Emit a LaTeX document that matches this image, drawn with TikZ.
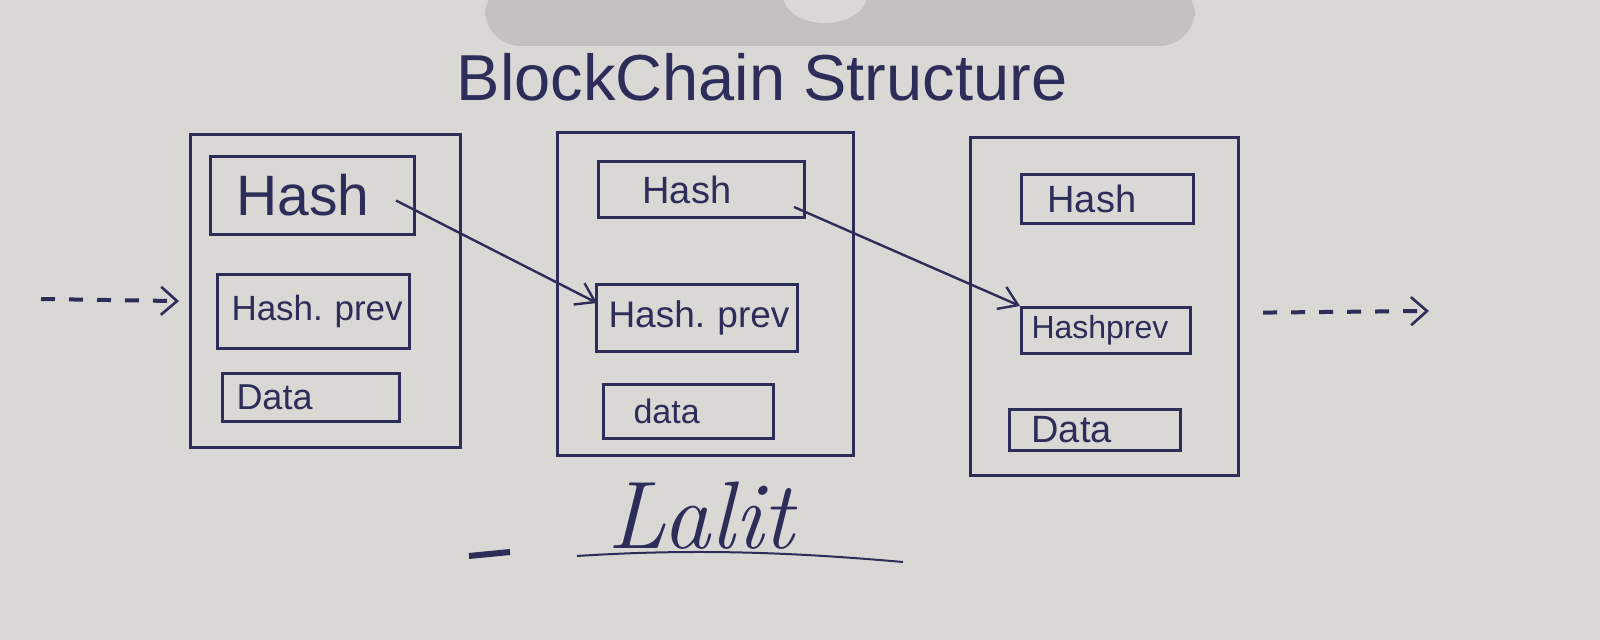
\documentclass[tikz,border=0pt]{standalone}
\usepackage{fontspec}
\newfontfamily\hand{Liberation Sans}
\usetikzlibrary{arrows.meta,calc}
\definecolor{ink}{HTML}{2E2C58}
\definecolor{paper}{HTML}{D9D8D5}
\definecolor{shadowgray}{HTML}{C3C1BF}
\frenchspacing
\begin{document}
\begin{tikzpicture}[x=0.5pt,y=-0.5pt,
  outer/.style={draw=ink, line width=1.6pt, inner sep=0pt, anchor=north west},
  field/.style={draw=ink, line width=1.5pt, inner xsep=0pt, inner ysep=0pt, anchor=north west, text=ink, align=left, font=\hand},
  link/.style={draw=ink, line width=1.2pt, -{Straight Barb[length=9pt,width=12pt,line width=1.2pt]}},
  dashlink/.style={draw=ink, line width=2pt, dash pattern=on 7pt off 7pt, -{Straight Barb[length=8pt,width=14pt,line width=1.3pt]}},
]
\fill[paper] (0,0) rectangle (1600,640);
\useasboundingbox (0,0) rectangle (1600,640);
% shadow at the top
\fill[shadowgray, rounded corners=18pt] (485,-20) rectangle (1195,46);
\fill[paper] (825,-5) ellipse [x radius=42, y radius=28];

% title
\node[text=ink, font=\hand\fontsize{32.5}{36}\selectfont] (title) at (762,77) {BlockChain Structure};

% block 1
\node[outer, minimum width=135pt, minimum height=156.5pt] (b1) at (189,133) {};
\node[field, text width=102pt, minimum height=39pt, font=\hand\fontsize{28.5}{30}\selectfont] (h1) at (209,155) {\hspace*{13pt}Hash};
\node[field, text width=96pt, minimum height=37pt, font=\hand\fontsize{17.5}{20}\selectfont] (p1) at (216,273) {\hspace*{7pt}\mbox{Hash.\ prev}};
\node[field, text width=88.5pt, minimum height=24pt, font=\hand\fontsize{18}{20}\selectfont] (d1) at (221,372) {\hspace*{7pt}Data};

% block 2
\node[outer, minimum width=148pt, minimum height=161.5pt] (b2) at (556,131) {};
\node[field, text width=103pt, minimum height=28pt, font=\hand\fontsize{19}{21}\selectfont] (h2) at (597,160) {\hspace*{22pt}Hash};
\node[field, text width=100.5pt, minimum height=33.5pt, font=\hand\fontsize{18.5}{21}\selectfont] (p2) at (595,283) {\hspace*{6pt}\mbox{Hash.\ prev}};
\node[field, text width=85pt, minimum height=27pt, font=\hand\fontsize{17}{19}\selectfont] (d2) at (602,383) {\hspace*{15pt}data};

% block 3
\node[outer, minimum width=134pt, minimum height=169pt] (b3) at (969,136) {};
\node[field, text width=86pt, minimum height=24.5pt, font=\hand\fontsize{19}{21}\selectfont] (h3) at (1020,173) {\hspace*{13pt}Hash};
\node[field, text width=84.5pt, minimum height=23pt, font=\hand\fontsize{16}{18}\selectfont] (p3) at (1020,306) {\hspace*{5pt}Hashprev};
\node[field, text width=85.5pt, minimum height=20.5pt, font=\hand\fontsize{19}{21}\selectfont] (d3) at (1008,408) {\hspace*{11pt}Data};

% hash links
\draw[link] ($(h1.east)+(-20,5)$) -- ($(p2.west)+(2,-15)$);
\draw[link] ($(h2.south east)+(-12,-12)$) -- (p3.north west);

% incoming / outgoing chain
\coordinate (inL) at (41,299);
\coordinate (outR) at (1429,311);
\draw[dashlink] (inL) -- ($(b1.west)+(-10,10)$);
\draw[dashlink] ($(b3.east)+(23,6)$) -- (outR);

% signature
\draw[ink, line width=3pt] (469,556) -- (510,552);
\node[text=ink, font=\itshape\fontsize{48}{52}\selectfont, anchor=base] (sig) at (701,548) {Lalit};
\draw[ink, line width=1pt] (577,556) .. controls (700,548) and (800,553) .. (903,562);
\end{tikzpicture}
\end{document}
